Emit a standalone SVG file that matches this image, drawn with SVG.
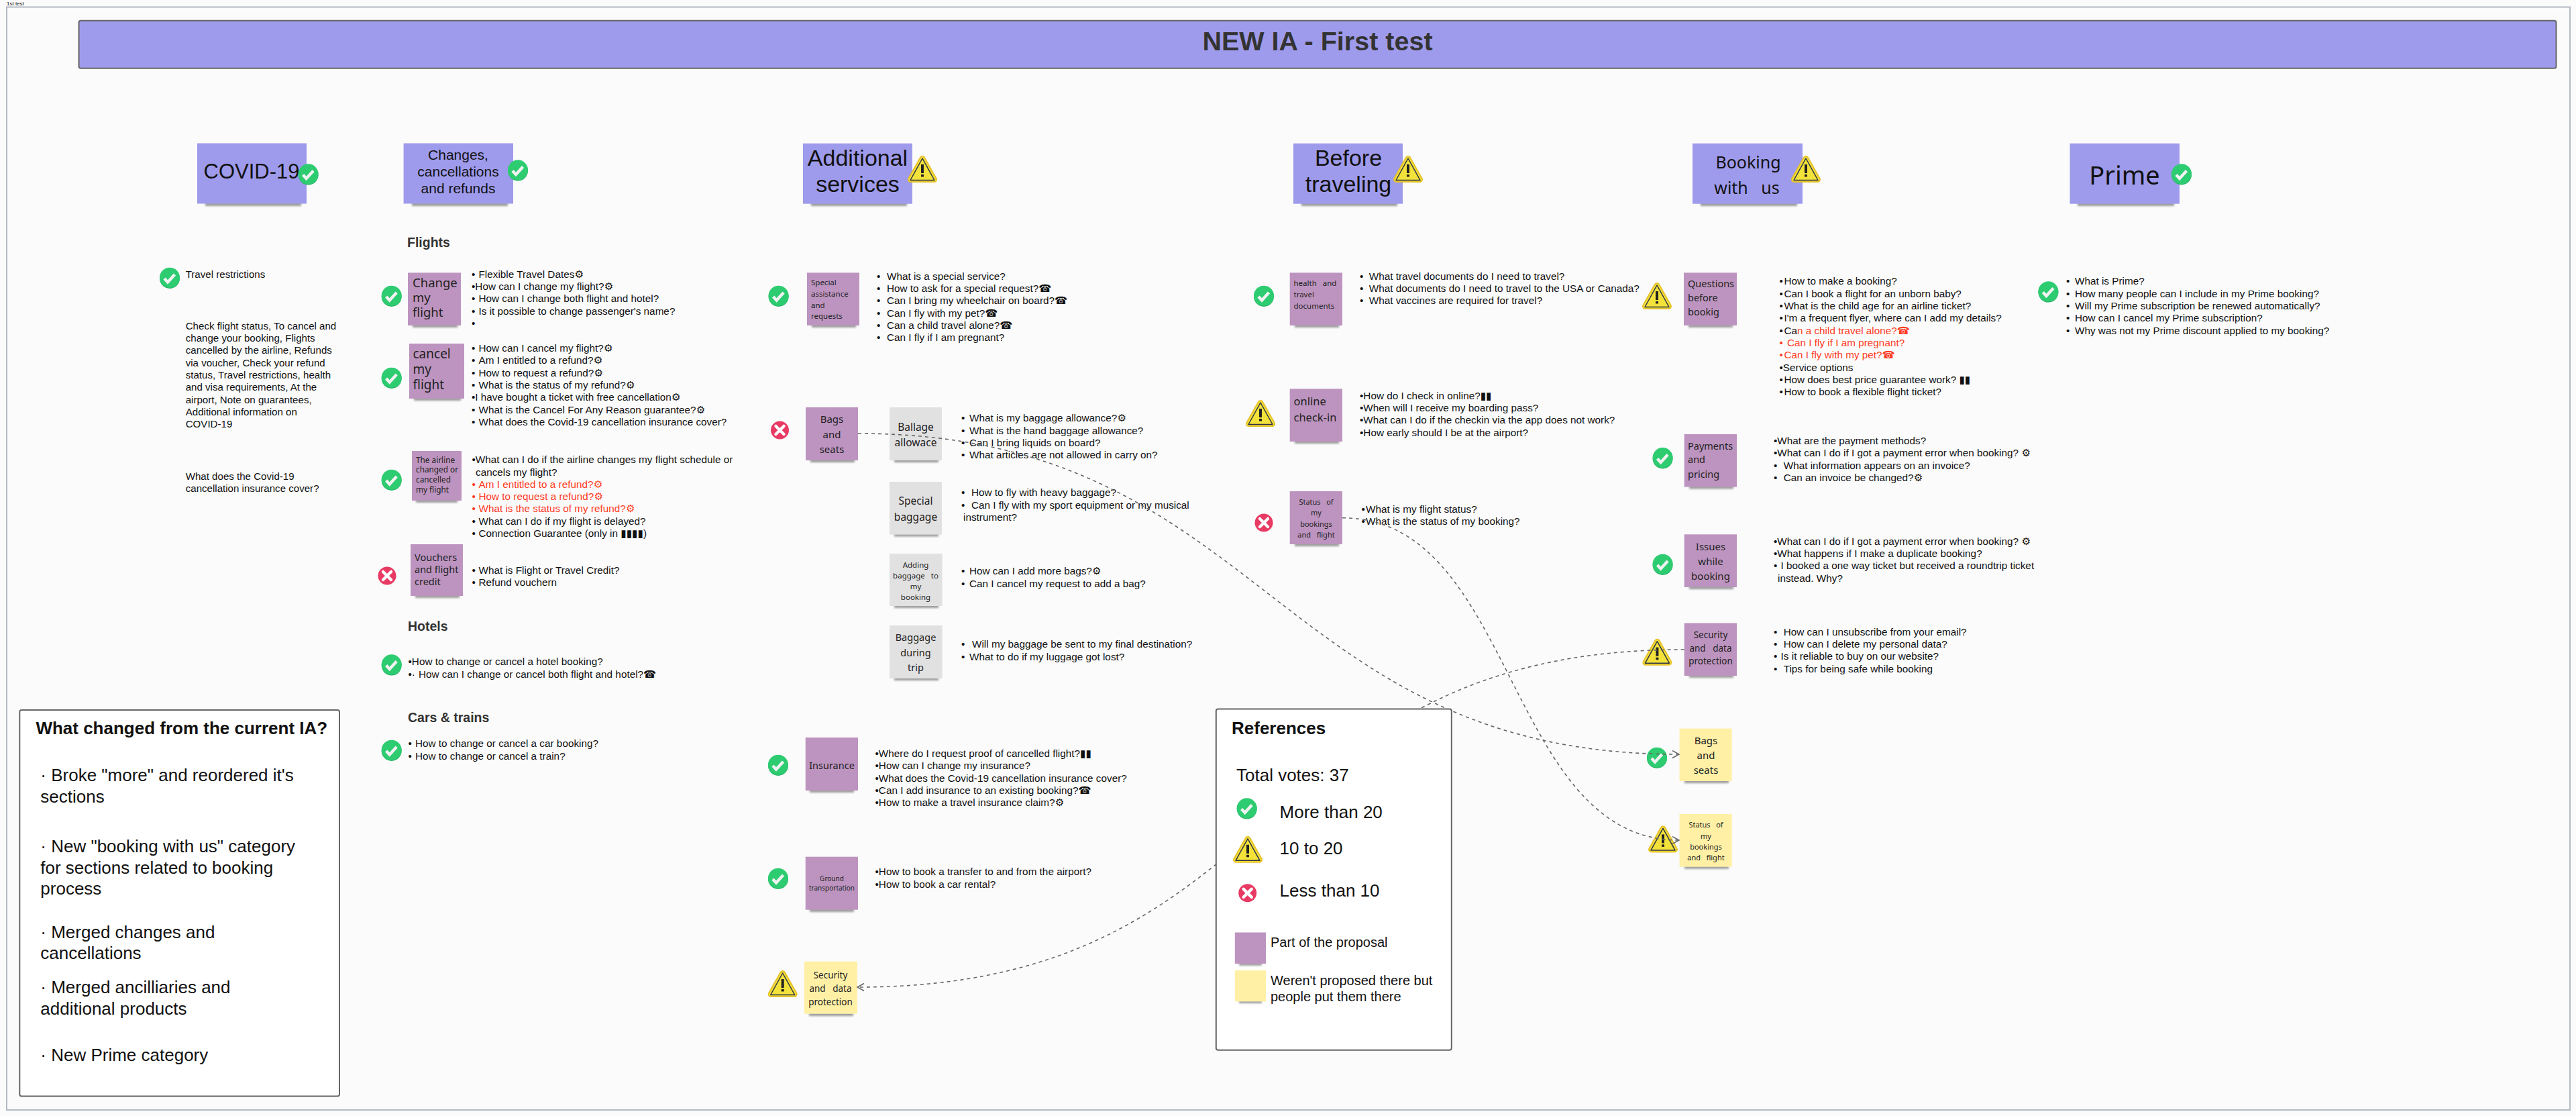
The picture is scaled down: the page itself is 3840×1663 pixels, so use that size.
<svg xmlns="http://www.w3.org/2000/svg" width="3840" height="1663" viewBox="0 0 3840 1663">
<style>
text{white-space:pre}
.t{font:15.3px "Liberation Sans","DejaVu Sans",sans-serif;fill:#111}
#covid .t{font-size:15.1px}
.r{fill:#ff3b1f}
.n{font-family:"Noto Sans","DejaVu Sans",sans-serif;fill:#222}
.a{font-family:"Liberation Sans",sans-serif;fill:#111}
.m{text-anchor:middle}
.h{font:bold 19.5px "Liberation Sans",sans-serif;fill:#333}
.big{font-family:"Liberation Sans",sans-serif;font-size:26px;fill:#111}
.bold{font-weight:bold}
.p{fill:#bd94bf}
.b{fill:#9f9bec}
.g{fill:#e1e1e1}
.y{fill:#fff0a6}
.sh{fill:#000;opacity:.38;filter:url(#blur)}
.c{fill:none;stroke:#666;stroke-width:1.6;stroke-dasharray:5 5}
.box{fill:#fff;stroke:#666;stroke-width:2}
</style>
<defs>
<filter id="blur" x="-20%" y="-100%" width="140%" height="300%"><feGaussianBlur stdDeviation="1.8"/></filter>
<marker id="arr" markerUnits="userSpaceOnUse" markerWidth="14" markerHeight="14" refX="11" refY="6.5" orient="auto"><path d="M1 1L11 6.5L1 12" fill="none" stroke="#666" stroke-width="1.5"/></marker>
<g id="ok"><circle cy="1" r="15" fill="#27b565"/><circle cy="-.3" r="15" fill="#2ecc71"/><path d="M-8 1L-3 6.5L7.500-5" fill="none" stroke="#f2f2f2" stroke-width="4.400"/></g>
<g id="no"><circle r="13.500" fill="#e83a63"/><path d="M-6-6L6 6M6-6L-6 6" stroke="#fff" stroke-width="4.500" stroke-linecap="round"/></g>
<g id="warn"><path d="M0-15.500L17.500 15.500H-17.500Z" fill="#e6c32a" stroke="#e6c32a" stroke-width="9" stroke-linejoin="round"/><path d="M0-15.500L17.500 15.500H-17.500Z" fill="#f3e23a" stroke="#f3e23a" stroke-width="5" stroke-linejoin="round"/><path d="M0-16L18 16.500H-18Z" fill="none" stroke="#2f3346" stroke-width="1.500" stroke-linejoin="round"/><rect x="-2" y="-7" width="4" height="13" fill="#222"/><rect x="-2" y="8" width="4" height="3.500" fill="#222"/></g>
</defs>
<rect width="3840" height="1663" fill="#fbfbfb"/>
<text class="a" x="10" y="7.500" font-size="8">1st test</text>
<rect x="10" y="10.500" width="3821" height="1643.500" fill="none" stroke="#b4bac4" stroke-width="2"/>
<g id="title"><rect x="117.500" y="30.700" width="3693" height="71" rx="3" class="b" stroke="#666" stroke-width="2"/><text class="a bold m" x="1964" y="74.500" font-size="39.500" style="fill:#333">NEW IA - First test</text></g>

<g id="covid">
<rect class="sh" x="306" y="301" width="143" height="6"/><rect class="b" x="294" y="213.500" width="163" height="90"/>
<text class="a m" x="375" y="266" font-size="31">COVID-19</text><use href="#ok" x="459.600" y="259.600"/>
<use href="#ok" x="253" y="414"/>
<text class="t" x="276.700" y="414">Travel restrictions</text>
<text class="t" x="276.700" y="490.700">Check flight status, To cancel and</text>
<text class="t" x="276.700" y="509">change your booking, Flights</text>
<text class="t" x="276.700" y="527.400">cancelled by the airline, Refunds</text>
<text class="t" x="276.700" y="545.700">via voucher, Check your refund</text>
<text class="t" x="276.700" y="564">status, Travel restrictions, health</text>
<text class="t" x="276.700" y="582.400">and visa requirements, At the</text>
<text class="t" x="276.700" y="600.700">airport, Note on guarantees,</text>
<text class="t" x="276.700" y="619">Additional information on</text>
<text class="t" x="276.700" y="637.400">COVID-19</text>
<text class="t" x="276.700" y="715">What does the Covid-19</text>
<text class="t" x="276.700" y="733.400">cancellation insurance cover?</text>
</g>

<g id="changes">
<rect class="sh" x="614" y="301" width="143" height="6"/><rect class="b" x="601.600" y="213.500" width="163.400" height="90"/>
<text class="a m" x="683" y="237.500" font-size="21">Changes,</text><text class="a m" x="683" y="263" font-size="21">cancellations</text><text class="a m" x="683" y="288" font-size="21">and refunds</text><use href="#ok" x="772" y="253.600"/>
<text class="h" x="607" y="368">Flights</text><text class="h" x="608" y="940">Hotels</text><text class="h" x="608" y="1075.500">Cars &amp; trains</text>
</g>

<g id="change-flight">
<rect class="sh" x="615" y="483" width="67" height="5"/><rect class="p" x="608" y="406.400" width="79" height="78.600"/>
<text class="n" x="615" y="427.500" font-size="18.500">Change</text><text class="n" x="615" y="449.500" font-size="18.500">my</text><text class="n" x="615" y="472" font-size="18.500">flight</text>
<use href="#ok" x="583.700" y="441"/>
<text class="t" y="413.600"><tspan x="703">•</tspan><tspan x="713.500">Flexible Travel Dates⚙</tspan></text>
<text class="t" x="703" y="432">•How can I change my flight?⚙</text>
<text class="t" y="450.300"><tspan x="703">•</tspan><tspan x="713.500">How can I change both flight and hotel?</tspan></text>
<text class="t" y="468.700"><tspan x="703">•</tspan><tspan x="713.500">Is it possible to change passenger's name?</tspan></text>
<text class="t" x="703" y="487">•</text>
</g>

<g id="cancel-flight">
<rect class="sh" x="617" y="592" width="70" height="5"/><rect class="p" x="610" y="512" width="82" height="82"/>
<text class="n" x="615.500" y="534" font-size="19">cancel</text><text class="n" x="615.500" y="557" font-size="19">my</text><text class="n" x="615.500" y="580" font-size="19">flight</text>
<use href="#ok" x="583.700" y="563"/>
<text class="t" y="524"><tspan x="703">•</tspan><tspan x="713.500">How can I cancel my flight?⚙</tspan></text>
<text class="t" y="542.300"><tspan x="703">•</tspan><tspan x="713.500">Am I entitled to a refund?⚙</tspan></text>
<text class="t" y="560.600"><tspan x="703">•</tspan><tspan x="713.500">How to request a refund?⚙</tspan></text>
<text class="t" y="579"><tspan x="703">•</tspan><tspan x="713.500">What is the status of my refund?⚙</tspan></text>
<text class="t" x="703" y="597.300">•I have bought a ticket with free cancellation⚙</text>
<text class="t" y="615.600"><tspan x="703">•</tspan><tspan x="713.500">What is the Cancel For Any Reason guarantee?⚙</tspan></text>
<text class="t" y="634"><tspan x="703">•</tspan><tspan x="713.500">What does the Covid-19 cancellation insurance cover?</tspan></text>
</g>

<g id="airline-changed">
<rect class="sh" x="620" y="744" width="62" height="5"/><rect class="p" x="614" y="672" width="74" height="74"/>
<text class="n" x="620" y="689.500" font-size="11.800">The airline</text><text class="n" x="620" y="704" font-size="11.800">changed or</text><text class="n" x="620" y="719" font-size="11.800">cancelled</text><text class="n" x="620" y="733.500" font-size="11.800">my flight</text>
<use href="#ok" x="583.700" y="715"/>
<text class="t" x="703.500" y="690">•What can I do if the airline changes my flight schedule or</text>
<text class="t" x="709" y="708.500">cancels my flight?</text>
<text class="t r" y="727"><tspan x="703.500">•</tspan><tspan x="713.500">Am I entitled to a refund?⚙</tspan></text>
<text class="t r" y="745"><tspan x="703.500">•</tspan><tspan x="713.500">How to request a refund?⚙</tspan></text>
<text class="t r" y="763.300"><tspan x="703.500">•</tspan><tspan x="713.500">What is the status of my refund?⚙</tspan></text>
<text class="t" y="781.500"><tspan x="703.500">•</tspan><tspan x="713.500">What can I do if my flight is delayed?</tspan></text>
<text class="t" y="800"><tspan x="703.500">•</tspan><tspan x="713.500">Connection Guarantee (only in ▮▮▮▮)</tspan></text>
</g>

<g id="vouchers">
<rect class="sh" x="619" y="886" width="66" height="5"/><rect class="p" x="612" y="811" width="78" height="77"/>
<text class="n" x="618" y="835.500" font-size="14.500">Vouchers</text><text class="n" x="618" y="853.500" font-size="14.500">and flight</text><text class="n" x="618" y="871.500" font-size="14.500">credit</text>
<use href="#no" x="577" y="858"/>
<text class="t" y="854.700"><tspan x="703.500">•</tspan><tspan x="713.500">What is Flight or Travel Credit?</tspan></text>
<text class="t" y="873"><tspan x="703.500">•</tspan><tspan x="713.500">Refund vouchern</tspan></text>
</g>

<g id="hotels">
<use href="#ok" x="583.700" y="990.600"/>
<text class="t" x="608.500" y="991">•How to change or cancel a hotel booking?</text>
<text class="t" y="1009.500"><tspan x="608.500">•·</tspan><tspan x="624">How can I change or cancel both flight and hotel?☎</tspan></text>
</g>

<g id="cars">
<use href="#ok" x="583.700" y="1118"/>
<text class="t" y="1113"><tspan x="608.500">•</tspan><tspan x="619">How to change or cancel a car booking?</tspan></text>
<text class="t" y="1131.500"><tspan x="608.500">•</tspan><tspan x="619">How to change or cancel a train?</tspan></text>
</g>

<g id="additional">
<rect class="sh" x="1209" y="301" width="143" height="6"/><rect class="b" x="1197" y="213.700" width="163" height="90"/>
<text class="a m" x="1278.500" y="246.500" font-size="34">Additional</text><text class="a m" x="1278.500" y="286" font-size="34">services</text><use href="#warn" x="1375" y="252"/>
</g>

<g id="special-assistance">
<rect class="sh" x="1210" y="483" width="66" height="5"/><rect class="p" x="1203" y="406.400" width="78" height="78.600"/>
<text class="n" x="1209" y="425" font-size="11.500">Special</text><text class="n" x="1209" y="442" font-size="11.500">assistance</text><text class="n" x="1209" y="458.500" font-size="11.500">and</text><text class="n" x="1209" y="475" font-size="11.500">requests</text>
<use href="#ok" x="1160.600" y="441"/>
<text class="t" y="416.500"><tspan x="1307">•</tspan><tspan x="1322">What is a special service?</tspan></text>
<text class="t" y="435"><tspan x="1307">•</tspan><tspan x="1322">How to ask for a special request?☎</tspan></text>
<text class="t" y="453"><tspan x="1307">•</tspan><tspan x="1322">Can I bring my wheelchair on board?☎</tspan></text>
<text class="t" y="471.500"><tspan x="1307">•</tspan><tspan x="1322">Can I fly with my pet?☎</tspan></text>
<text class="t" y="489.500"><tspan x="1307">•</tspan><tspan x="1322">Can a child travel alone?☎</tspan></text>
<text class="t" y="508"><tspan x="1307">•</tspan><tspan x="1322">Can I fly if I am pregnant?</tspan></text>
</g>

<g id="bags-seats">
<rect class="sh" x="1208" y="684" width="66" height="5"/><rect class="p" x="1201" y="607" width="78" height="79"/>
<text class="n m" x="1240" y="630" font-size="15">Bags</text><text class="n m" x="1240" y="652.500" font-size="15">and</text><text class="n m" x="1240" y="675" font-size="15">seats</text>
<use href="#no" x="1162.500" y="641"/>
</g>

<g id="baggage-allowance">
<rect class="sh" x="1333" y="684" width="66" height="5"/><rect class="g" x="1326" y="607" width="78" height="79"/>
<text class="n m" x="1365" y="642" font-size="15.500">Ballage</text><text class="n m" x="1365" y="665" font-size="15.500">allowace</text>
<text class="t" y="628"><tspan x="1433">•</tspan><tspan x="1445">What is my baggage allowance?⚙</tspan></text>
<text class="t" y="646.500"><tspan x="1433">•</tspan><tspan x="1445">What is the hand baggage allowance?</tspan></text>
<text class="t" y="665"><tspan x="1433">•</tspan><tspan x="1445">Can I bring liquids on board?</tspan></text>
<text class="t" y="683"><tspan x="1433">•</tspan><tspan x="1445">What articles are not allowed in carry on?</tspan></text>
</g>

<g id="special-baggage">
<rect class="sh" x="1333" y="794.500" width="66" height="5"/><rect class="g" x="1326" y="718" width="78" height="78.600"/>
<text class="n m" x="1365" y="752.400" font-size="15.500">Special</text><text class="n m" x="1365" y="775.500" font-size="15.500">baggage</text>
<text class="t" y="739"><tspan x="1433">•</tspan><tspan x="1448">How to fly with heavy baggage?</tspan></text>
<text class="t" y="757.500"><tspan x="1433">•</tspan><tspan x="1448">Can I fly with my sport equipment or my musical</tspan></text>
<text class="t" x="1436" y="776">instrument?</text>
</g>

<g id="adding-baggage">
<rect class="sh" x="1333" y="901" width="66" height="5"/><rect class="g" x="1326" y="825" width="78.600" height="78"/>
<text class="n m" x="1365" y="846" font-size="11.500">Adding</text><text class="n m" x="1365" y="862" font-size="11.500">baggage   to</text><text class="n m" x="1365" y="878" font-size="11.500">my</text><text class="n m" x="1365" y="894" font-size="11.500">booking</text>
<text class="t" y="856"><tspan x="1433">•</tspan><tspan x="1445">How can I add more bags?⚙</tspan></text>
<text class="t" y="874.500"><tspan x="1433">•</tspan><tspan x="1445">Can I cancel my request to add a bag?</tspan></text>
</g>

<g id="baggage-trip">
<rect class="sh" x="1333" y="1009" width="66" height="5"/><rect class="g" x="1326" y="932" width="78.600" height="79"/>
<text class="n m" x="1365" y="955" font-size="14.500">Baggage</text><text class="n m" x="1365" y="977.500" font-size="14.500">during</text><text class="n m" x="1365" y="1000" font-size="14.500">trip</text>
<text class="t" y="965"><tspan x="1433">•</tspan><tspan x="1449">Will my baggage be sent to my final destination?</tspan></text>
<text class="t" y="983.500"><tspan x="1433">•</tspan><tspan x="1445">What to do if my luggage got lost?</tspan></text>
</g>

<g id="insurance">
<rect class="sh" x="1207" y="1176" width="66" height="5"/><rect class="p" x="1200.700" y="1099" width="78.300" height="79"/>
<text class="n m" x="1240" y="1145.700" font-size="14.500">Insurance</text>
<use href="#ok" x="1160" y="1140"/>
<text class="t" x="1304.500" y="1127.700">•Where do I request proof of cancelled flight?▮▮</text>
<text class="t" x="1304.500" y="1146">•How can I change my insurance?</text>
<text class="t" x="1304.500" y="1164.500">•What does the Covid-19 cancellation insurance cover?</text>
<text class="t" x="1304.500" y="1182.700">•Can I add insurance to an existing booking?☎</text>
<text class="t" x="1304.500" y="1201">•How to make a travel insurance claim?⚙</text>
</g>

<g id="ground">
<rect class="sh" x="1207" y="1354" width="66" height="5"/><rect class="p" x="1200.700" y="1276.700" width="78.300" height="79"/>
<text class="n m" x="1240" y="1312.700" font-size="10">Ground</text><text class="n m" x="1240" y="1327" font-size="10">transportation</text>
<use href="#ok" x="1160" y="1309"/>
<text class="t" x="1304.500" y="1304">•How to book a transfer to and from the airport?</text>
<text class="t" x="1304.500" y="1322.500">•How to book a car rental?</text>
</g>

<g id="security-yellow">
<rect class="sh" x="1206" y="1509" width="66" height="5"/><rect class="y" x="1199" y="1432.700" width="79" height="78"/>
<text class="n m" x="1238" y="1458" font-size="13.500">Security</text><text class="n m" x="1238" y="1478" font-size="13.500">and   data</text><text class="n m" x="1238" y="1497.700" font-size="13.500">protection</text>
<use href="#warn" x="1166.700" y="1466"/>
</g>

<g id="before">
<rect class="sh" x="1940" y="301" width="143" height="6"/><rect class="b" x="1928" y="213.700" width="163" height="90"/>
<text class="a m" x="2010" y="246.500" font-size="34">Before</text><text class="a m" x="2010" y="286" font-size="34">traveling</text><use href="#warn" x="2099" y="252"/>
</g>

<g id="health-docs">
<rect class="sh" x="1930" y="483" width="66" height="5"/><rect class="p" x="1922.700" y="406.400" width="78.300" height="78.600"/>
<text class="n" x="1928.500" y="426" font-size="11.500">health   and</text><text class="n" x="1928.500" y="442.600" font-size="11.500">travel</text><text class="n" x="1928.500" y="459.500" font-size="11.500">documents</text>
<use href="#ok" x="1884" y="441"/>
<text class="t" y="416.500"><tspan x="2027">•</tspan><tspan x="2040.700">What travel documents do I need to travel?</tspan></text>
<text class="t" y="435"><tspan x="2027">•</tspan><tspan x="2040.700">What documents do I need to travel to the USA or Canada?</tspan></text>
<text class="t" y="453"><tspan x="2027">•</tspan><tspan x="2040.700">What vaccines are required for travel?</tspan></text>
</g>

<g id="online-checkin">
<rect class="sh" x="1930" y="656" width="66" height="5"/><rect class="p" x="1922.700" y="579.400" width="78.300" height="78.600"/>
<text class="n" x="1928.500" y="604" font-size="16.500">online</text><text class="n" x="1928.500" y="628" font-size="16.500">check-in</text>
<use href="#warn" x="1879" y="616"/>
<text class="t" x="2027" y="594.500">•How do I check in online?▮▮</text>
<text class="t" x="2027" y="613">•When will I receive my boarding pass?</text>
<text class="t" x="2027" y="631">•What can I do if the checkin via the app does not work?</text>
<text class="t" x="2027" y="649.500">•How early should I be at the airport?</text>
</g>

<g id="status-purple">
<rect class="sh" x="1930" y="809" width="66" height="5"/><rect class="p" x="1922.700" y="732" width="78.300" height="79"/>
<text class="n m" x="1962" y="751.500" font-size="11">Status   of</text><text class="n m" x="1962" y="768" font-size="11">my</text><text class="n m" x="1962" y="784.500" font-size="11">bookings</text><text class="n m" x="1962" y="801" font-size="11">and   flight</text>
<use href="#no" x="1884" y="779"/>
<text class="t" y="763.700"><tspan x="2029.500">•</tspan><tspan x="2036">What is my flight status?</tspan></text>
<text class="t" y="782"><tspan x="2029.500">•</tspan><tspan x="2036">What is the status of my booking?</tspan></text>
</g>

<g id="booking">
<rect class="sh" x="2535" y="301" width="144" height="6"/><rect class="b" x="2523" y="213.700" width="164" height="90"/>
<text class="n m" x="2606" y="251" font-size="25" style="fill:#111">Booking</text><text class="n m" x="2604" y="289" font-size="25" style="fill:#111">with   us</text><use href="#warn" x="2692" y="252"/>
</g>

<g id="questions">
<rect class="sh" x="2517" y="483" width="66" height="5"/><rect class="p" x="2510" y="406.400" width="79" height="78.600"/>
<text class="n" x="2516" y="428" font-size="14.500">Questions</text><text class="n" x="2516" y="449.400" font-size="14.500">before</text><text class="n" x="2516" y="470.400" font-size="14.500">bookig</text>
<use href="#warn" x="2470" y="441"/>
<text class="t" y="424"><tspan x="2652.500">•</tspan><tspan x="2659.400">How to make a booking?</tspan></text>
<text class="t" y="442.500"><tspan x="2652.500">•</tspan><tspan x="2659.400">Can I book a flight for an unborn baby?</tspan></text>
<text class="t" y="461"><tspan x="2652.500">•</tspan><tspan x="2659.400">What is the child age for an airline ticket?</tspan></text>
<text class="t" y="479"><tspan x="2652.500">•</tspan><tspan x="2659.400">I'm a frequent flyer, where can I add my details?</tspan></text>
<text class="t" y="497.500"><tspan x="2652.500">•</tspan><tspan x="2659.400">Ca</tspan><tspan class="r">n a child travel alone?☎</tspan></text>
<text class="t r" y="516"><tspan x="2652.500">•</tspan><tspan x="2664">Can I fly if I am pregnant?</tspan></text>
<text class="t r" y="534"><tspan x="2652.500">•</tspan><tspan x="2659.400">Can I fly with my pet?☎</tspan></text>
<text class="t" x="2652.500" y="552.500">•Service options</text>
<text class="t" y="570.500"><tspan x="2652.500">•</tspan><tspan x="2659.400">How does best price guarantee work? ▮▮</tspan></text>
<text class="t" y="589"><tspan x="2652.500">•</tspan><tspan x="2659.400">How to book a flexible flight ticket?</tspan></text>
</g>

<g id="payments">
<rect class="sh" x="2518" y="723.500" width="66" height="5"/><rect class="p" x="2510.700" y="647" width="78.300" height="78.600"/>
<text class="n" x="2516" y="669.600" font-size="14.500">Payments</text><text class="n" x="2516" y="690" font-size="14.500">and</text><text class="n" x="2516" y="712" font-size="14.500">pricing</text>
<use href="#ok" x="2478.600" y="682.400"/>
<text class="t" x="2644" y="661.800">•What are the payment methods?</text>
<text class="t" x="2644" y="680">•What can I do if I got a payment error when booking? ⚙</text>
<text class="t" y="698.500"><tspan x="2644">•</tspan><tspan x="2658.700">What information appears on an invoice?</tspan></text>
<text class="t" y="716.800"><tspan x="2644">•</tspan><tspan x="2658.700">Can an invoice be changed?⚙</tspan></text>
</g>

<g id="issues">
<rect class="sh" x="2518" y="873" width="66" height="5"/><rect class="p" x="2510.700" y="796.300" width="78.300" height="78.700"/>
<text class="n m" x="2550" y="820" font-size="15">Issues</text><text class="n m" x="2550" y="842" font-size="15">while</text><text class="n m" x="2550" y="864" font-size="15">booking</text>
<use href="#ok" x="2478.600" y="841"/>
<text class="t" x="2644" y="811.500">•What can I do if I got a payment error when booking? ⚙</text>
<text class="t" x="2644" y="830">•What happens if I make a duplicate booking?</text>
<text class="t" y="848"><tspan x="2644">•</tspan><tspan x="2654.600">I booked a one way ticket but received a roundtrip ticket</tspan></text>
<text class="t" x="2650" y="866.500">instead. Why?</text>
</g>

<g id="security-purple">
<rect class="sh" x="2518" y="1005" width="66" height="5"/><rect class="p" x="2510.700" y="928.500" width="78.300" height="78.500"/>
<text class="n m" x="2550" y="950.600" font-size="13.500">Security</text><text class="n m" x="2550" y="970.500" font-size="13.500">and   data</text><text class="n m" x="2550" y="990" font-size="13.500">protection</text>
<use href="#warn" x="2470.400" y="971.700"/>
<text class="t" y="946.500"><tspan x="2644">•</tspan><tspan x="2658.700">How can I unsubscribe from your email?</tspan></text>
<text class="t" y="965"><tspan x="2644">•</tspan><tspan x="2658.700">How can I delete my personal data?</tspan></text>
<text class="t" y="983"><tspan x="2644">•</tspan><tspan x="2654.600">Is it reliable to buy on our website?</tspan></text>
<text class="t" y="1001.500"><tspan x="2644">•</tspan><tspan x="2658.700">Tips for being safe while booking</tspan></text>
</g>

<g id="bags-yellow">
<rect class="sh" x="2511" y="1162" width="66" height="5"/><rect class="y" x="2503.600" y="1085.600" width="78" height="78.400"/>
<text class="n m" x="2543" y="1109" font-size="15">Bags</text><text class="n m" x="2543" y="1131" font-size="15">and</text><text class="n m" x="2543" y="1153" font-size="15">seats</text>
<use href="#ok" x="2470" y="1129"/>
</g>

<g id="status-yellow">
<rect class="sh" x="2511" y="1289.700" width="66" height="5"/><rect class="y" x="2503.600" y="1213" width="78" height="78.700"/>
<text class="n m" x="2543" y="1233" font-size="11">Status   of</text><text class="n m" x="2543" y="1249.500" font-size="11">my</text><text class="n m" x="2543" y="1266" font-size="11">bookings</text><text class="n m" x="2543" y="1282" font-size="11">and   flight</text>
<use href="#warn" x="2479" y="1250.400"/>
</g>

<g id="prime">
<rect class="sh" x="3097" y="301" width="144" height="6"/><rect class="b" x="3085.500" y="213.700" width="163.500" height="90"/>
<text class="n m" x="3167" y="275" font-size="38" style="fill:#111">Prime</text><use href="#ok" x="3252" y="259.500"/>
<use href="#ok" x="3053.400" y="434.600"/>
<text class="t" y="424"><tspan x="3080">•</tspan><tspan x="3093">What is Prime?</tspan></text>
<text class="t" y="442.500"><tspan x="3080">•</tspan><tspan x="3093">How many people can I include in my Prime booking?</tspan></text>
<text class="t" y="461"><tspan x="3080">•</tspan><tspan x="3093">Will my Prime subscription be renewed automatically?</tspan></text>
<text class="t" y="479"><tspan x="3080">•</tspan><tspan x="3093">How can I cancel my Prime subscription?</tspan></text>
<text class="t" y="497.500"><tspan x="3080">•</tspan><tspan x="3093">Why was not my Prime discount applied to my booking?</tspan></text>
</g>

<g id="connectors">
<path class="c" marker-end="url(#arr)" d="M1279 646C1883 646 1899 1124 2503 1124"/>
<path class="c" marker-end="url(#arr)" d="M2001 771.700C2259 771.700 2245 1252 2503 1252"/>
<path class="c" marker-end="url(#arr)" d="M2510.700 968C1861 968 1927 1471 1278 1471"/>
</g>

<g id="references">
<rect class="box" x="1812.800" y="1056.400" width="351" height="508.300" rx="3"/>
<text class="a bold" x="1836" y="1094.400" font-size="26">References</text>
<text class="big" x="1843" y="1163.600">Total votes: 37</text>
<use href="#ok" x="1858.700" y="1204.600"/><text class="big" x="1907.600" y="1218.700">More than 20</text>
<use href="#warn" x="1860" y="1265.800"/><text class="big" x="1907.600" y="1273">10 to 20</text>
<use href="#no" x="1859.700" y="1330.800"/><text class="big" x="1907.600" y="1335.600">Less than 10</text>
<rect class="sh" x="1847" y="1434" width="34" height="5"/><rect class="p" x="1840.800" y="1389.500" width="46.200" height="46.500"/>
<text class="a" x="1894" y="1411" font-size="20">Part of the proposal</text>
<rect class="sh" x="1847" y="1490" width="34" height="5"/><rect class="y" x="1840.800" y="1446" width="46.200" height="46.400"/>
<text class="a" x="1894" y="1468" font-size="20">Weren't proposed there but</text>
<text class="a" x="1894" y="1492" font-size="20">people put them there</text>
</g>

<g id="what-changed">
<rect class="box" x="29.300" y="1058" width="476.700" height="575.600" rx="3"/>
<text class="a bold" x="53.400" y="1094.400" font-size="26">What changed from the current IA?</text>
<text class="big" x="60.300" y="1164">· Broke "more" and reordered it's</text>
<text class="big" x="60.300" y="1195.600">sections</text>
<text class="big" x="60.300" y="1270.400">· New "booking with us" category</text>
<text class="big" x="60.300" y="1302">for sections related to booking</text>
<text class="big" x="60.300" y="1333">process</text>
<text class="big" x="60.300" y="1398">· Merged changes and</text>
<text class="big" x="60.300" y="1429">cancellations</text>
<text class="big" x="60.300" y="1480">· Merged ancilliaries and</text>
<text class="big" x="60.300" y="1512">additional products</text>
<text class="big" x="60.300" y="1581">· New Prime category</text>
</g>
</svg>
